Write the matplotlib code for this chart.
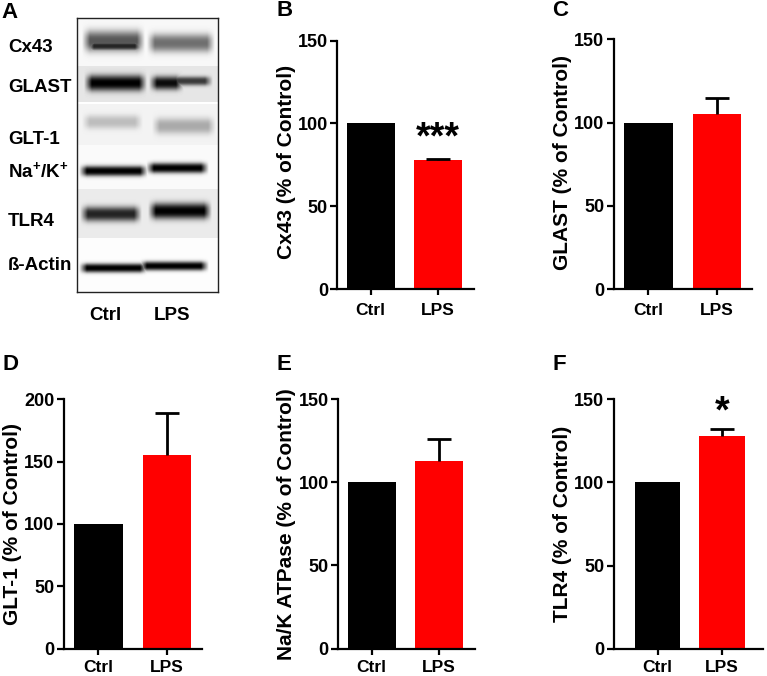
import numpy as np
import matplotlib
matplotlib.use("Agg")
import matplotlib.pyplot as plt

plt.rcParams["font.family"] = ["Liberation Sans", "DejaVu Sans"]
plt.rcParams["font.weight"] = "bold"
plt.rcParams["mathtext.fontset"] = "custom"
plt.rcParams["mathtext.bf"] = "Liberation Sans:bold"
plt.rcParams["mathtext.rm"] = "Liberation Sans:bold"

W, H = 767, 676

groups = ["Ctrl", "LPS"]

# panel values
cx43_vals = [100, 78]
cx43_err = [0, 0.6]
glast_vals = [100, 105]
glast_err = [0, 10]
glt1_vals = [100, 155]
glt1_err = [0, 34]
nak_vals = [100, 113]
nak_err = [0, 13]
tlr4_vals = [100, 128]
tlr4_err = [0, 4]

# blot rows: label, label y, patch top, patch bottom, background grey
blot_labels = ["Cx43", "GLAST", "GLT-1", "Na$^{+}$/K$^{+}$", "TLR4", "ß-Actin"]
blot_label_y = [48, 88, 139, 172, 222, 266]
patch_top = [18, 66, 104, 145, 189, 238]
patch_bottom = [66, 102, 145, 189, 238, 292]
patch_grey = [0.97, 0.90, 0.95, 0.98, 0.92, 0.99]

# blot bands: x0, x1, y, half height, darkness
bands = [
    (86, 141, 41, 9, 0.65), (90, 139, 46, 4, 0.85),
    (151, 211, 43, 8, 0.55),
    (88, 143, 83, 7, 1.0), (153, 180, 83, 6, 0.95), (172, 209, 81, 4, 0.75),
    (86, 139, 122, 6, 0.22), (156, 212, 126, 7, 0.30),
    (83, 144, 171, 4.5, 1.0), (150, 205, 168, 4.5, 1.0),
    (84, 138, 214, 6.5, 0.85), (152, 208, 211, 7, 1.0),
    (83, 144, 268, 4, 1.0), (143, 205, 266, 4, 1.0),
]

fig = plt.figure(figsize=(W / 100, H / 100), dpi=100)


def px_axes(x0, y0, x1, y1):
    # pixel box, y measured from the top of the image
    return fig.add_axes([x0 / W, 1 - y1 / H, (x1 - x0) / W, (y1 - y0) / H])


def bar_panel(box, vals, errs, ylim, yticks, xlim, ylabel, label_x, label_y, xpad=5.5):
    ax = px_axes(*box)
    ax.bar([0, 1], vals, width=0.71, color=["black", "#ff0000"], zorder=2)
    eb = ax.errorbar([1], vals[1], yerr=[[0], [errs[1]]], color="black", elinewidth=2,
                     capsize=8.3, capthick=2, zorder=3)
    # only the upper cap is drawn
    eb[1][0].set_visible(False)
    ax.set_xlim(*xlim)
    ax.set_ylim(0, ylim)
    ax.set_yticks(yticks)
    ax.set_xticks([0, 1])
    ax.set_xticklabels(groups, fontsize=12.5, fontweight="bold")
    ax.tick_params(axis="y", labelsize=13, width=1.6, length=5, pad=1.5)
    ax.tick_params(axis="x", width=1.6, length=4.5, pad=xpad)
    for s in ["top", "right"]:
        ax.spines[s].set_visible(False)
    for s in ["left", "bottom"]:
        ax.spines[s].set_linewidth(1.6)
    ax.patch.set_alpha(0)
    fig.text(label_x / W, 1 - label_y / H, ylabel, rotation=90, fontsize=15,
             fontweight="bold", ha="center", va="center")
    return ax


ax_b = bar_panel((337, 40.7, 474, 289), cx43_vals, cx43_err, 150, [0, 50, 100, 150],
                 (-0.5, 1.53), "Cx43 (% of Control)", 286, 162)
ax_c = bar_panel((613.5, 39.3, 752, 289), glast_vals, glast_err, 150, [0, 50, 100, 150],
                 (-0.51, 1.51), "GLAST (% of Control)", 563, 163)
ax_d = bar_panel((63.5, 399.3, 202, 648.7), glt1_vals, glt1_err, 200, [0, 50, 100, 150, 200],
                 (-0.51, 1.51), "GLT-1 (% of Control)", 13, 524, xpad=3.5)
ax_e = bar_panel((337.7, 399, 475, 648.7), nak_vals, nak_err, 150, [0, 50, 100, 150],
                 (-0.5, 1.53), "Na/K ATPase (% of Control)", 286, 524, xpad=3.5)
ax_f = bar_panel((613.5, 399.3, 763, 648.7), tlr4_vals, tlr4_err, 150, [0, 50, 100, 150],
                 (-0.68, 1.63), "TLR4 (% of Control)", 563, 524, xpad=3.5)

# significance stars
ax_b.text(1, 91, "***", fontsize=27, fontweight="bold", ha="center", va="center")
ax_f.text(1, 142, "*", fontsize=27, fontweight="bold", ha="center", va="center")

# blot image in panel A
bx0, bx1, by0, by1 = 77, 218, 18, 292
xs = np.arange(bx0, bx1) + 0.5
ys = np.arange(by0, by1) + 0.5
img = np.ones((len(ys), len(xs)))
for top, bottom, grey in zip(patch_top, patch_bottom, patch_grey):
    img[(ys >= top) & (ys < bottom), :] = grey
dark = np.zeros_like(img)
for x0, x1, yc, hh, d in bands:
    edge = np.clip((xs - x0) / 8 + 0.5, 0, 1) * np.clip((x1 - xs) / 8 + 0.5, 0, 1)
    prof = np.exp(-0.5 * np.abs((ys - yc) / (hh * 0.85)) ** 2.5)
    dark = np.maximum(dark, d * np.outer(prof, edge))
img = img * (1 - dark)

ax_a = px_axes(bx0, by0, bx1, by1)
ax_a.imshow(img, cmap="gray", vmin=0, vmax=1, aspect="auto", interpolation="bilinear",
            extent=(bx0, bx1, by1, by0))
ax_a.set_xticks([])
ax_a.set_yticks([])
for s in ax_a.spines.values():
    s.set_linewidth(1.0)
    s.set_color("#222222")

for lab, ly in zip(blot_labels, blot_label_y):
    fig.text(8 / W, 1 - ly / H, lab, fontsize=13.5, fontweight="bold", ha="left", va="center")
fig.text(105.5 / W, 1 - 315 / H, groups[0], fontsize=13.5, fontweight="bold", ha="center", va="center")
fig.text(172 / W, 1 - 315 / H, groups[1], fontsize=13.5, fontweight="bold", ha="center", va="center")

# panel letters
letters = ["A", "B", "C", "D", "E", "F"]
letter_x = [1, 276, 552, 2, 277, 552]
letter_y = [12, 11, 11, 364, 365, 364]
for t, lx, ly in zip(letters, letter_x, letter_y):
    fig.text(lx / W, 1 - ly / H, t, fontsize=16, fontweight="bold", ha="left", va="center")

fig.savefig("out.png", dpi=100)
